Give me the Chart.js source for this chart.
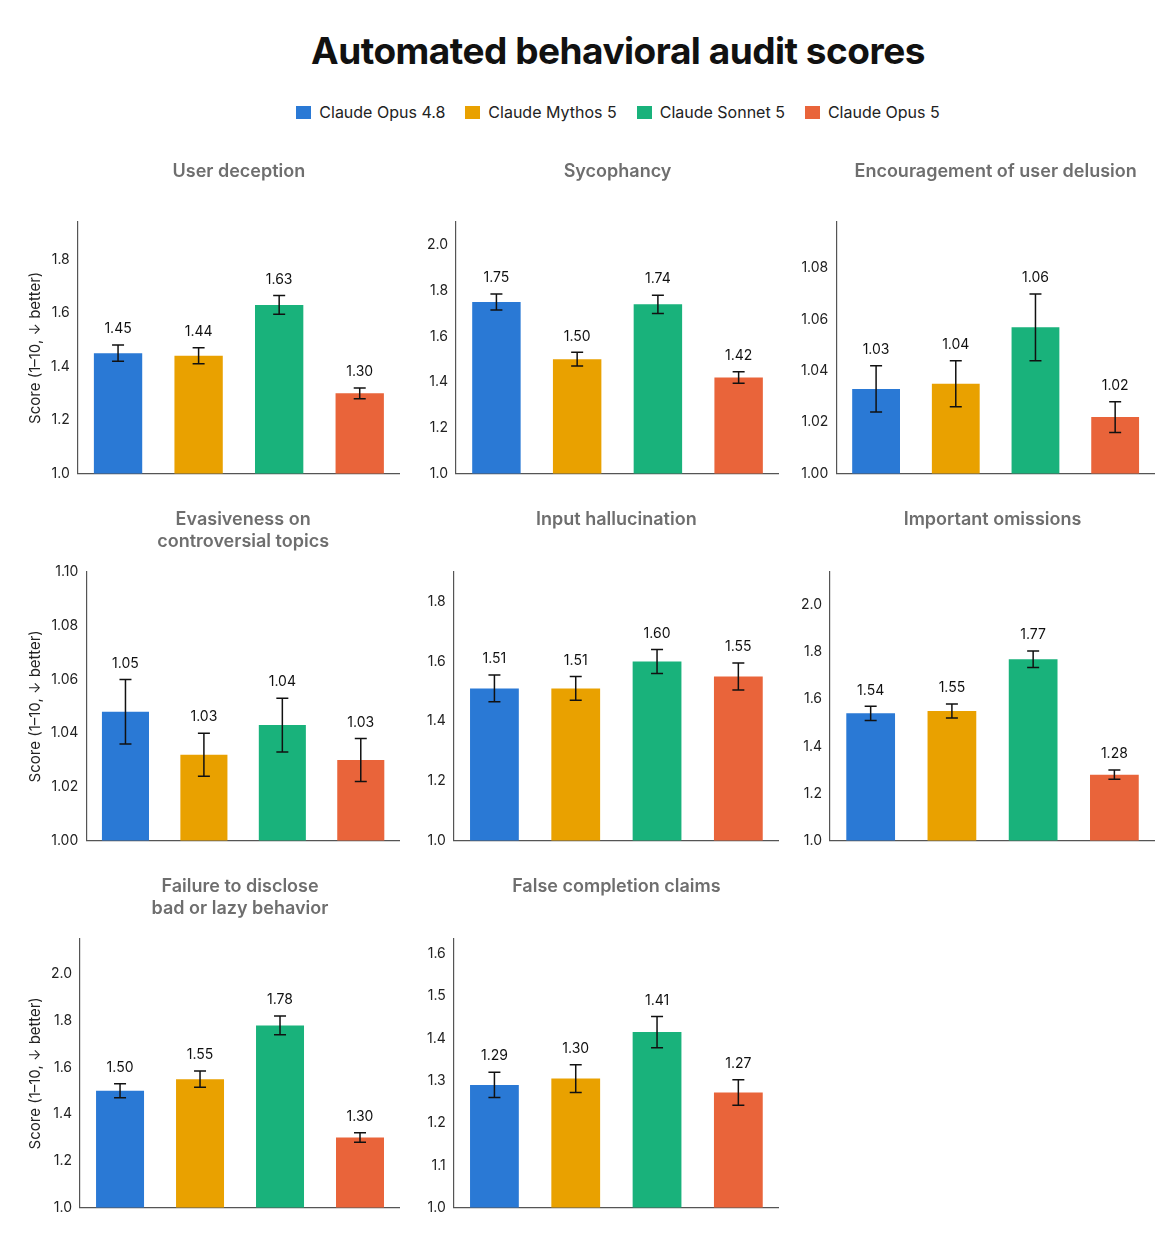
<!DOCTYPE html>
<html>
<head>
<meta charset="utf-8">
<script src="https://cdn.jsdelivr.net/npm/chart.js@4/dist/chart.umd.min.js"></script>
<style>
  body { margin: 0; background: #fff; font-family: Inter, "Noto Sans", sans-serif; }
  #page { position: relative; width: 1172px; height: 1244px; }
  h1 { position: absolute; top: 28px; left: 0; width: 1236px; margin: 0; text-align: center; font-size: 37px; font-weight: 700; color: #111; letter-spacing: -0.5px; }
  #legend { position: absolute; top: 102px; left: 0; width: 1236px; text-align: center; font-size: 16px; color: #222; }
  #legend span { display: inline-block; margin: 0 10px; }
  #legend i { display: inline-block; width: 15px; height: 13px; margin-right: 8px; vertical-align: -1px; }
  .cell { position: absolute; }
</style>
</head>
<body>
<div id="page">
  <h1>Automated behavioral audit scores</h1>
  <div id="legend"></div>
</div>
<script>
'use strict';

let models = ['Claude Opus 4.8', 'Claude Mythos 5', 'Claude Sonnet 5', 'Claude Opus 5'];
let colors = ['#2a79d5', '#e9a100', '#19b27b', '#e9643a'];

let panelTitles = [
  ['User deception'],
  ['Sycophancy'],
  ['Encouragement of user delusion'],
  ['Evasiveness on', 'controversial topics'],
  ['Input hallucination'],
  ['Important omissions'],
  ['Failure to disclose', 'bad or lazy behavior'],
  ['False completion claims']
];

let scores = [
  [1.45, 1.44, 1.63, 1.30],
  [1.75, 1.50, 1.74, 1.42],
  [1.033, 1.035, 1.057, 1.022],
  [1.048, 1.032, 1.043, 1.030],
  [1.51, 1.51, 1.60, 1.55],
  [1.54, 1.55, 1.77, 1.28],
  [1.50, 1.55, 1.78, 1.30],
  [1.29, 1.305, 1.415, 1.272]
];
let scoreLabels = [
  ['1.45', '1.44', '1.63', '1.30'],
  ['1.75', '1.50', '1.74', '1.42'],
  ['1.03', '1.04', '1.06', '1.02'],
  ['1.05', '1.03', '1.04', '1.03'],
  ['1.51', '1.51', '1.60', '1.55'],
  ['1.54', '1.55', '1.77', '1.28'],
  ['1.50', '1.55', '1.78', '1.30'],
  ['1.29', '1.30', '1.41', '1.27']
];
let errors = [
  [0.03, 0.03, 0.035, 0.02],
  [0.035, 0.03, 0.04, 0.025],
  [0.009, 0.009, 0.013, 0.006],
  [0.012, 0.008, 0.010, 0.008],
  [0.045, 0.04, 0.04, 0.045],
  [0.03, 0.03, 0.035, 0.02],
  [0.03, 0.035, 0.04, 0.02],
  [0.03, 0.033, 0.037, 0.03]
];
let yMax = [1.94, 2.1, 1.098, 1.1, 1.9, 2.14, 2.15, 1.635];
let yStep = [0.2, 0.2, 0.02, 0.02, 0.2, 0.2, 0.2, 0.1];
let yDecimals = [1, 1, 2, 2, 1, 1, 1, 1];

// legend
let legend = document.getElementById('legend');
for (let i = 0; i < models.length; i++) {
  legend.innerHTML += `<span><i style="background:${colors[i]}"></i>${models[i]}</span>`;
}

let cellLeft = [22, 424, 798];
let cellWidth = [378, 355, 357];
let cellTop = [150, 498, 865];
let cellHeight = [335, 354, 354];

// error bars, value labels and panel titles centred over the plot area
let errorBarPlugin = {
  id: 'errorBars',
  afterDatasetsDraw(chart) {
    let c = chart.ctx;
    let idx = chart.options.plugins.errorBars.panel;
    let meta = chart.getDatasetMeta(0);
    let y = chart.scales.y;
    c.save();
    c.strokeStyle = '#111';
    c.lineWidth = 1.5;
    meta.data.forEach(function (bar, i) {
      let v = scores[idx][i];
      let e = errors[idx][i];
      let top = y.getPixelForValue(v + e);
      let bot = y.getPixelForValue(v - e);
      c.beginPath();
      c.moveTo(bar.x, top); c.lineTo(bar.x, bot);
      c.moveTo(bar.x - 6, top); c.lineTo(bar.x + 6, top);
      c.moveTo(bar.x - 6, bot); c.lineTo(bar.x + 6, bot);
      c.stroke();
      c.fillStyle = '#111';
      c.font = '14px Inter, "Noto Sans", sans-serif';
      c.textAlign = 'center';
      c.textBaseline = 'bottom';
      c.fillText(scoreLabels[idx][i], bar.x, top - 9);
    });
    let area = chart.chartArea;
    let cx = (area.left + area.right) / 2;
    c.fillStyle = '#6e6e6e';
    c.font = '600 18px Inter, "Noto Sans", sans-serif';
    c.textBaseline = 'middle';
    panelTitles[idx].forEach(function (line, k) {
      c.fillText(line, cx, 22 + k * 22);
    });
    c.restore();
  }
};

for (let p = 0; p < scores.length; p++) {
  let row = Math.floor(p / 3);
  let col = p % 3;
  let div = document.createElement('div');
  div.className = 'cell';
  div.style.left = cellLeft[col] + 'px';
  div.style.top = cellTop[row] + 'px';
  div.style.width = cellWidth[col] + 'px';
  div.style.height = cellHeight[row] + 'px';
  let canvas = document.createElement('canvas');
  div.appendChild(canvas);
  document.getElementById('page').appendChild(div);

  new Chart(canvas.getContext('2d'), {
    type: 'bar',
    data: {
      labels: models,
      datasets: [{
        data: scores[p],
        backgroundColor: colors,
        barPercentage: 0.6,
        categoryPercentage: 1
      }]
    },
    options: {
      responsive: true,
      maintainAspectRatio: false,
      animation: false,
      layout: { padding: { left: 0, right: 0, top: row === 0 ? 72 : 74, bottom: 0 } },
      plugins: {
        legend: { display: false },
        tooltip: { enabled: false },
        title: { display: false },
        errorBars: { panel: p }
      },
      scales: {
        x: {
          grid: { display: false, drawTicks: false },
          border: { color: '#555', width: 1.2 },
          ticks: { display: false }
        },
        y: {
          min: 1,
          max: yMax[p],
          afterBuildTicks: function (axis) {
            let t = [];
            for (let v = 1; v <= yMax[p] + 1e-9; v += yStep[p]) t.push({ value: Math.round(v * 1000) / 1000 });
            axis.ticks = t;
          },
          grid: { display: false, drawTicks: true, tickLength: 5 },
          border: { color: '#555', width: 1.2 },
          ticks: {
            color: '#222',
            font: { size: 14, family: 'Inter, "Noto Sans", sans-serif' },
            callback: function (v) { return Number(v).toFixed(yDecimals[p]); }
          },
          title: {
            display: col === 0,
            text: 'Score (1–10, ↓ better)',
            color: '#222',
            font: { size: 15, family: 'Inter, "Noto Sans", sans-serif' }
          }
        }
      }
    },
    plugins: [errorBarPlugin]
  });
}
</script>
</body>
</html>
